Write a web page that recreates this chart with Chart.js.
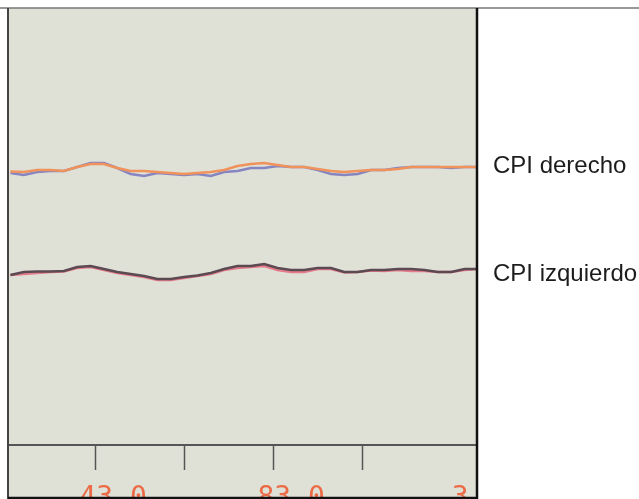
<!DOCTYPE html>
<html>
<head>
    <script src="https://cdn.jsdelivr.net/npm/chart.js@4.4.1/dist/chart.umd.min.js"></script>
    <style>
        body {
            margin: 0;
            background: white;
        }
        #wrap {
            width: 639px;
            height: 499px;
        }
    </style>
</head>
<body>
    <div id="wrap"><canvas id="cpiChart"></canvas></div>

    <script>
        // horizontal positions of the samples
        const xValues = [24, 27, 30, 33, 36, 39, 42, 45, 48, 51, 54, 57, 60, 63, 66, 69, 72, 75,
                         78, 81, 84, 87, 90, 93, 96, 99, 102, 105, 108, 111, 114, 117, 120, 123, 126, 129];

        // CPI derecho (two traces)
        const derechoA = [68.4, 68.25, 68.75, 68.75, 68.5, 69.5, 70.25, 70.25, 69.25, 68.5, 68.5, 68.25,
                          68, 67.75, 68, 68.25, 68.75, 69.75, 70.25, 70.5, 70, 69.5, 69.5, 69, 68.5, 68.25,
                          68.5, 68.75, 68.75, 69, 69.5, 69.5, 69.5, 69.5, 69.5, 69.5];
        const derechoB = [68, 67.5, 68.25, 68.5, 68.5, 69.5, 70.5, 70.5, 69.25, 67.75, 67.25, 68,
                          67.75, 67.5, 67.75, 67.25, 68.25, 68.5, 69.25, 69.25, 69.75, 69.5, 69.5, 68.75, 67.75, 67.5,
                          67.75, 68.75, 68.75, 69.25, 69.5, 69.5, 69.5, 69.25, 69.5, 69.5];

        // CPI izquierdo (two traces)
        const izquierdoA = [42.5, 43.25, 43.4, 43.4, 43.5, 44.5, 44.75, 44, 43.25, 42.75, 42.25, 41.5,
                            41.5, 42, 42.4, 43, 44, 44.75, 44.75, 45.25, 44.25, 43.75, 43.75, 44.25, 44.25, 43.25,
                            43.25, 43.75, 43.75, 44, 44, 43.75, 43.25, 43.25, 44, 44];
        const izquierdoB = [42.5, 42.75, 43, 43.25, 43.4, 44.25, 44.5, 43.75, 43, 42.5, 42, 41.25,
                            41.25, 41.75, 42.25, 42.75, 43.75, 44.25, 44.5, 44.75, 43.75, 43.25, 43.25, 44, 44, 43.1,
                            43.25, 43.6, 43.5, 43.75, 43.5, 43.5, 43.25, 43.25, 43.75, 44];

        const tickValues = [43, 63, 83, 103, 121];
        const tickLabels = ['43.0', '', '83.0', '', '3'];
        const seriesNames = ['CPI derecho', 'CPI izquierdo'];

        function pts(ys) {
            return ys.map((y, i) => ({ x: xValues[i], y: y }));
        }

        // panel background, frame and side labels
        const framePlugin = {
            id: 'frame',
            beforeDraw(chart) {
                const c = chart.ctx;
                c.save();
                c.fillStyle = '#ffffff';
                c.fillRect(0, 0, chart.width, chart.height);
                c.fillStyle = '#dfe1d7';
                c.fillRect(8, 8, 469, 491);
                c.restore();
            },
            afterDraw(chart) {
                const c = chart.ctx;
                const yScale = chart.scales.y;
                c.save();
                c.strokeStyle = '#777';
                c.lineWidth = 1.5;
                c.beginPath();
                c.moveTo(0, 8);
                c.lineTo(chart.width, 8);
                c.stroke();
                c.strokeStyle = '#444';
                c.lineWidth = 2;
                c.beginPath();
                c.moveTo(8, 8);
                c.lineTo(8, 499);
                c.stroke();
                c.strokeStyle = '#111';
                c.lineWidth = 2.5;
                c.beginPath();
                c.moveTo(477, 8);
                c.lineTo(477, 499);
                c.moveTo(8, 498);
                c.lineTo(477, 498);
                c.stroke();

                // names next to the right end of each pair of traces
                c.fillStyle = '#1c1c1c';
                c.font = '24px "Liberation Sans", Arial, sans-serif';
                c.textBaseline = 'alphabetic';
                const lasts = [derechoA[derechoA.length - 1], izquierdoA[izquierdoA.length - 1]];
                const drop = [6, 12];
                seriesNames.forEach((name, i) => {
                    c.fillText(name, 493, yScale.getPixelForValue(lasts[i]) + drop[i]);
                });
                c.restore();
            }
        };

        const lineStyle = { borderWidth: 2.5, pointRadius: 0, tension: 0, fill: false };

        new Chart(document.getElementById('cpiChart'), {
            type: 'line',
            data: {
                datasets: [
                    { label: 'der A', data: pts(derechoA), borderColor: '#f0925c', ...lineStyle },
                    { label: 'der B', data: pts(derechoB), borderColor: '#8585c2', ...lineStyle },
                    { label: 'izq A', data: pts(izquierdoA), borderColor: '#5c4a52', ...lineStyle },
                    { label: 'izq B', data: pts(izquierdoB), borderColor: '#e57a8a', ...lineStyle }
                ]
            },
            options: {
                responsive: true,
                maintainAspectRatio: false,
                animation: false,
                layout: { padding: { left: 8, right: 162, top: 9, bottom: 2 } },
                plugins: {
                    legend: { display: false },
                    tooltip: { enabled: false }
                },
                scales: {
                    x: {
                        type: 'linear',
                        min: 23.45,
                        max: 128.8,
                        afterBuildTicks(scale) {
                            scale.ticks = tickValues.map(v => ({ value: v }));
                        },
                        afterFit(scale) {
                            scale.height = 52;
                        },
                        border: { display: true, color: '#555', width: 2 },
                        grid: {
                            drawOnChartArea: false,
                            drawTicks: true,
                            tickLength: 25,
                            tickWidth: 1.5,
                            tickColor: ctx => ctx.index === tickValues.length - 1 ? 'rgba(0,0,0,0)' : '#555'
                        },
                        ticks: {
                            autoSkip: false,
                            maxRotation: 0,
                            padding: 12,
                            labelOffset: 18,
                            color: '#ec6a45',
                            font: { family: '"DejaVu Sans Mono", monospace', size: 28 },
                            callback: (v, i) => tickLabels[i]
                        }
                    },
                    y: {
                        display: false,
                        min: 0,
                        max: 109
                    }
                }
            },
            plugins: [framePlugin]
        });
    </script>
</body>
</html>
